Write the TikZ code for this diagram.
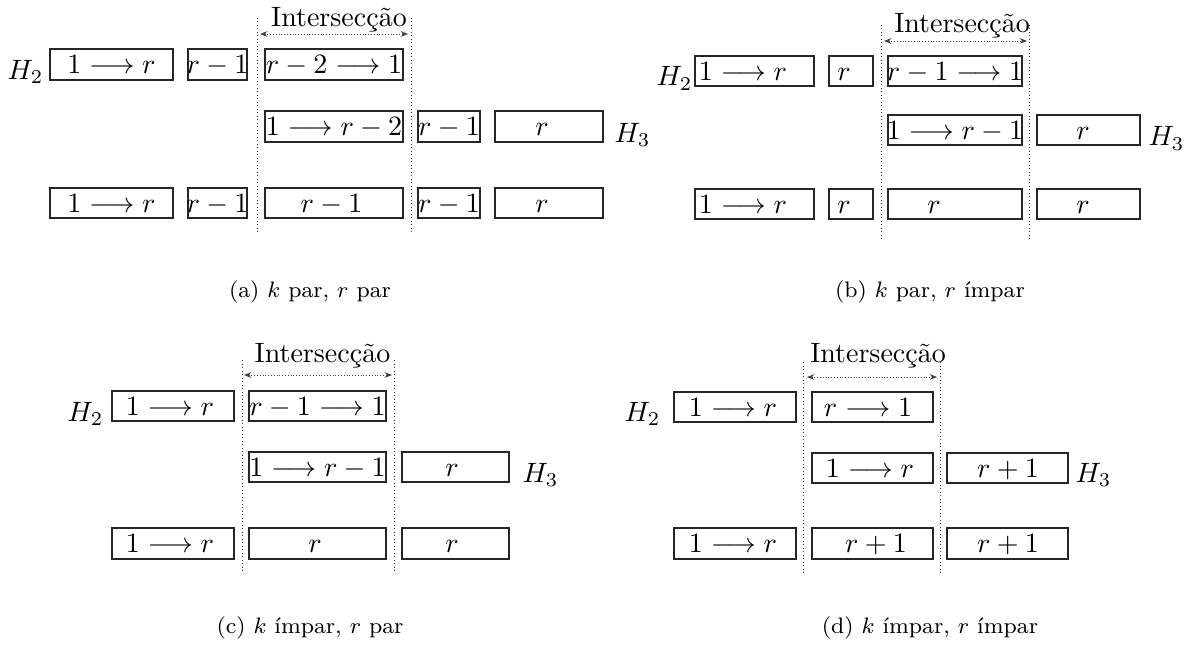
\documentclass[tikz,border=0pt]{standalone}
\usepackage{fontspec}
\usetikzlibrary{arrows.meta}
\tikzset{
  bxs/.style={draw=black!85, line width=0.4pt, rectangle, inner sep=0pt},
  txs/.style={inner sep=0pt, text height=6.5pt, text depth=0pt},
  hlab/.style={inner sep=0pt},
  divider/.style={draw=black!80, line width=0.35pt, dash pattern=on 0.35pt off 0.9pt},
  spanarrow/.style={draw=black!75, line width=0.3pt, dash pattern=on 0.3pt off 0.7pt, {Stealth[length=2.6pt,width=2pt,sep=0pt]}-{Stealth[length=2.6pt,width=2pt]}},
  captxt/.style={inner sep=0pt, font=\footnotesize},
  intlab/.style={inner sep=0pt, anchor=base}
}
\newcommand\bx[7]{%
  \node[bxs, minimum width={(#3-#2)*0.35714pt}, minimum height={(#5-#4)*0.35714pt}] (#1) at ({(#2+#3)/2},{(#4+#5)/2}) {};
  \node[txs] (#1t) at (#6,{(#4+#5)/2}) {$#7$};
}
\newcommand\inter[8]{%
  % #1 prefix, #2 x left line, #3 x right line, #4 y top, #5 y bottom, #6 arrow y, #7 arrow x1, #8 arrow x2
  \coordinate (#1lt) at (#2,#4); \coordinate (#1lb) at (#2,#5);
  \coordinate (#1rt) at (#3,#4); \coordinate (#1rb) at (#3,#5);
  \coordinate (#1a1) at (#7,#6); \coordinate (#1a2) at (#8,#6);
  \draw[divider] (#1lt) -- (#1lb);
  \draw[divider] (#1rt) -- (#1rb);
  \draw[spanarrow] (#1a1) -- (#1a2);
}
\begin{document}
\begin{tikzpicture}[x=0.35714pt, y=-0.35714pt]
\useasboundingbox (0,0) rectangle (1193,647);

% ---------------- (a) ----------------
\inter{ia}{257}{411}{18}{232}{34}{260}{408}
\node[intlab] (ia) at (339,27) {Intersecção};
\bx{a11}{50}{173}{49}{80}{111.5}{1\longrightarrow r}
\bx{a12}{188}{247}{49}{80}{217.5}{r-1}
\bx{a13}{265}{403}{49}{80}{334}{r-2\longrightarrow 1}
\bx{a21}{265}{403}{111}{142}{334}{1\longrightarrow r-2}
\bx{a22}{418}{480}{111}{142}{449}{r-1}
\bx{a23}{495}{603}{111}{142}{542}{r}
\bx{a31}{50}{173}{188}{218}{111.5}{1\longrightarrow r}
\bx{a32}{188}{247}{188}{218}{217.5}{r-1}
\bx{a33}{265}{403}{188}{218}{331.5}{r-1}
\bx{a34}{418}{480}{188}{218}{449}{r-1}
\bx{a35}{495}{603}{188}{218}{542}{r}
\node[hlab, anchor=base east] (aH2) at (44,79) {$H_2$};
\node[hlab, anchor=base west] (aH3) at (614,142) {$H_3$};
\node[captxt] (capa) at (310,292) {(a) $k$ par, $r$ par};

% ---------------- (b) ----------------
\inter{ib}{881}{1029}{25}{240}{41}{884}{1027}
\node[intlab] (ib) at (962,33) {Intersecção};
\bx{b11}{695}{814}{56}{86}{743}{1\longrightarrow r}
\bx{b12}{829}{873}{56}{86}{844}{r}
\bx{b13}{888}{1022}{56}{86}{955}{r-1\longrightarrow 1}
\bx{b21}{888}{1022}{115}{145}{955}{1\longrightarrow r-1}
\bx{b22}{1037}{1140}{115}{145}{1083}{r}
\bx{b31}{695}{814}{189}{219}{743}{1\longrightarrow r}
\bx{b32}{829}{873}{189}{219}{844}{r}
\bx{b33}{888}{1022}{189}{219}{934}{r}
\bx{b34}{1037}{1140}{189}{219}{1083}{r}
\node[hlab, anchor=base east] (bH2) at (693,86) {$H_2$};
\node[hlab, anchor=base west] (bH3) at (1148,146) {$H_3$};
\node[captxt] (capb) at (930,292) {(b) $k$ par, $r$ ímpar};

% ---------------- (c) ----------------
\inter{ic}{242}{394}{360}{573}{375}{244}{392}
\node[intlab] (ic) at (322.5,362) {Intersecção};
\bx{c11}{112}{234}{391}{421}{170}{1\longrightarrow r}
\bx{c12}{249}{386}{391}{421}{317.5}{r-1\longrightarrow 1}
\bx{c21}{249}{386}{452}{482}{317.5}{1\longrightarrow r-1}
\bx{c22}{402}{509}{452}{482}{452}{r}
\bx{c31}{112}{234}{528}{559}{170}{1\longrightarrow r}
\bx{c32}{249}{386}{528}{559}{315}{r}
\bx{c33}{402}{509}{528}{559}{452}{r}
\node[hlab, anchor=base east] (cH2) at (104,421) {$H_2$};
\node[hlab, anchor=base west] (cH3) at (522,482) {$H_3$};
\node[captxt] (capc) at (310,628) {(c) $k$ ímpar, $r$ par};

% ---------------- (d) ----------------
\inter{id}{803}{940}{362}{573}{377}{807}{937}
\node[intlab] (id) at (878,362) {Intersecção};
\bx{d11}{674}{796}{392}{422}{733}{1\longrightarrow r}
\bx{d12}{812}{933}{392}{422}{868}{r\longrightarrow 1}
\bx{d21}{812}{933}{453}{483}{870}{1\longrightarrow r}
\bx{d22}{947}{1068}{453}{483}{1008}{r+1}
\bx{d31}{674}{796}{528}{559}{733}{1\longrightarrow r}
\bx{d32}{812}{933}{528}{559}{876}{r+1}
\bx{d33}{947}{1068}{528}{559}{1008}{r+1}
\node[hlab, anchor=base east] (dH2) at (661,421) {$H_2$};
\node[hlab, anchor=base west] (dH3) at (1075,482) {$H_3$};
\node[captxt] (capd) at (930,628) {(d) $k$ ímpar, $r$ ímpar};
\end{tikzpicture}
\end{document}
